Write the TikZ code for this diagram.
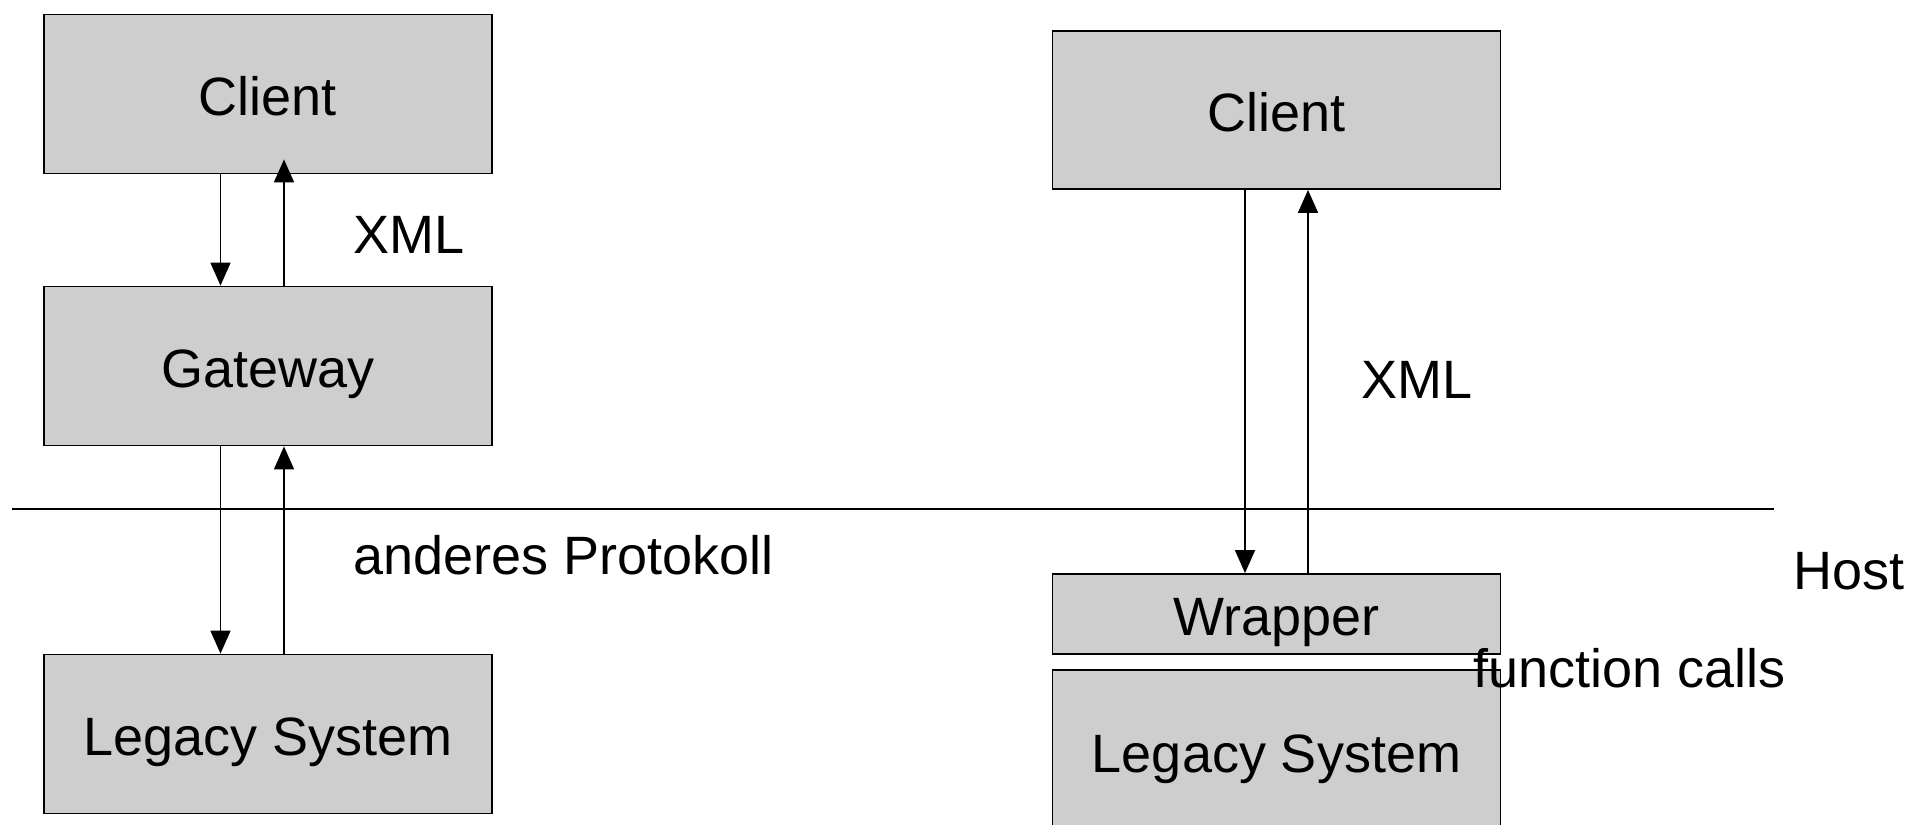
\documentclass[tikz,border=0pt]{standalone}
\usepackage{fontspec}
\setmainfont{Liberation Sans}
\usetikzlibrary{arrows.meta}
\definecolor{boxgray}{RGB}{206,206,206}
\begin{document}
\begin{tikzpicture}[x=0.5pt,y=-0.5pt,
  box/.style={draw=black, line width=0.9pt, fill=boxgray, minimum width=224pt, inner sep=0pt,
    font=\fontsize{27}{30}\selectfont, text height=19.3pt, text depth=0pt},
  boxtext/.style={yshift=-1pt},
  arr/.style={-{Triangle[length=11.5pt,width=10pt]}, line width=0.8pt},
  lbl/.style={anchor=base west, inner sep=0pt, font=\fontsize{27}{30}\selectfont}]
\useasboundingbox (0,0) rectangle (1910,824);
% left column
\node[box, minimum height=79.5pt] (c1) at (268,94) {};
\node[box, minimum height=79.5pt] (g1) at (268,366) {};
\node[box, minimum height=79.5pt] (l1) at (268,734) {};
% right column
\node[box, minimum height=79pt] (c2) at (1276.5,110) {};
\node[box, minimum height=40pt] (w2) at (1276.5,614) {};
\node[box, minimum height=81.5pt] (l2) at (1276.5,751.5) {};
% box texts
\node[box, draw=none, fill=none, minimum width=0pt, boxtext] (c1t) at (c1.center) {Client};
\node[box, draw=none, fill=none, minimum width=0pt, boxtext] (g1t) at (g1.center) {Gateway};
\node[box, draw=none, fill=none, minimum width=0pt, boxtext] (l1t) at (l1.center) {Legacy System};
\node[box, draw=none, fill=none, minimum width=0pt, boxtext] (c2t) at (c2.center) {Client};
\node[box, draw=none, fill=none, minimum width=0pt, boxtext] (w2t) at (w2.center) {Wrapper};
\node[box, draw=none, fill=none, minimum width=0pt, boxtext] (l2t) at (l2.center) {Legacy System};
% separator
\coordinate (hl) at (12,509);
\coordinate (hr) at (1774,509);
\draw[line width=0.75pt] (hl) -- (hr);
% arrows left
\draw[arr] ([xshift=-23.75pt]c1.south) -- ([xshift=-23.75pt]g1.north);
\draw[arr] ([xshift=8pt]g1.north) -- ([xshift=8pt,yshift=7.5pt]c1.south);
\draw[arr] ([xshift=-23.75pt]g1.south) -- ([xshift=-23.75pt]l1.north);
\draw[arr] ([xshift=8pt]l1.north) -- ([xshift=8pt]g1.south);
% arrows right
\draw[arr] ([xshift=-15.75pt]c2.south) -- ([xshift=-15.75pt]w2.north);
\draw[arr] ([xshift=15.75pt]w2.north) -- ([xshift=15.75pt]c2.south);
% labels
\node[lbl] (xml1) at (353,253) {XML};
\node[lbl] (prot) at (353,574) {anderes Protokoll};
\node[lbl] (xml2) at (1361,398) {XML};
\node[lbl] (host) at (1793,589.5) {Host};
\node[lbl] (fc) at (1473,687) {function calls};
\end{tikzpicture}
\end{document}
